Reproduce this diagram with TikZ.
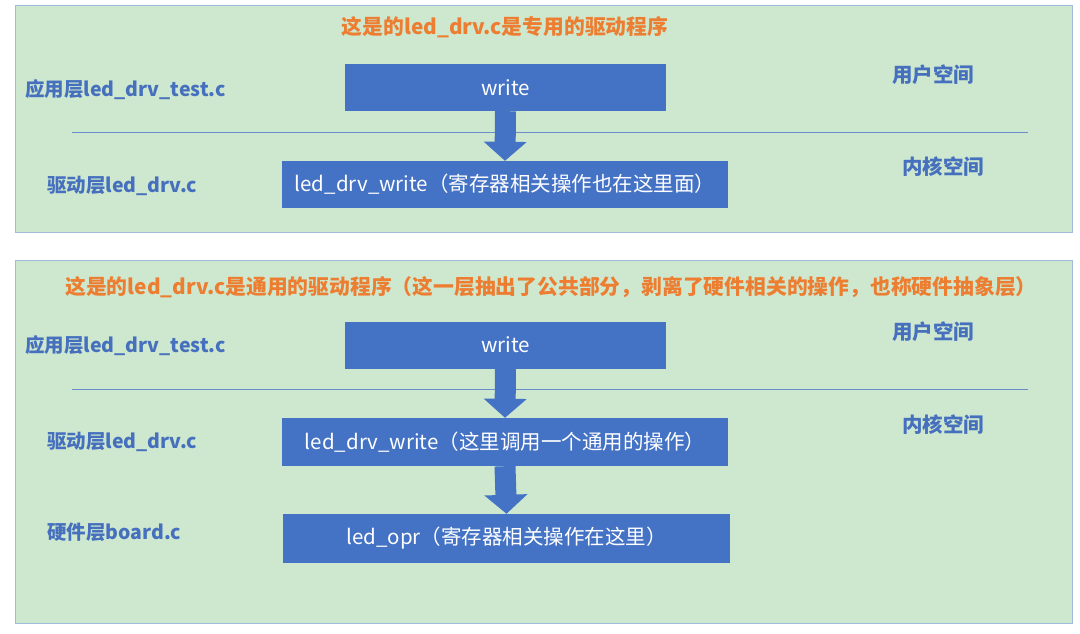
\documentclass[tikz,border=0pt]{standalone}
\usepackage{fontspec}
\setmainfont{Noto Sans CJK SC}
\usepackage{xcolor}
\usetikzlibrary{arrows.meta,positioning}

\definecolor{panelgreen}{RGB}{205,232,206}
\definecolor{panelline}{RGB}{160,188,220}
\definecolor{boxblue}{RGB}{68,114,196}
\definecolor{labelblue}{RGB}{70,112,190}
\definecolor{titleorange}{RGB}{237,125,49}

\begin{document}
\begin{tikzpicture}[
			x = 1pt, y = -1pt,
			panel/.style = {draw=panelline, fill=panelgreen, line width=1pt},
			funcbox/.style = {fill=boxblue, text=white, font=\fontsize{20.5}{22}\selectfont,
				minimum height=47pt, inner sep=0pt},
			layer/.style = {text=labelblue, font=\fontsize{19.5}{21}\selectfont\bfseries, inner sep=0pt},
			space/.style = {layer, font=\fontsize{20.5}{22}\selectfont\bfseries},
			title/.style = {text=titleorange, font=\fontsize{20.8}{22}\selectfont\bfseries, inner sep=0pt},
			sepline/.style = {draw=labelblue!80, line width=0.8pt},
			callarrow/.style = {draw=boxblue, line width=21pt, -{Triangle[length=19pt,width=42pt]}}
		]
		\useasboundingbox (0,0) rectangle (1080,633);

		% top panel: dedicated driver
		\draw[panel] (15,5) rectangle (1072,232);
		\node[title] (tit1) at (505,27) {这是的led\_drv.c是专用的驱动程序};
		\node[layer, anchor=west] (app1) at (25,90) {应用层led\_drv\_test.c};
		\node[layer, anchor=west] (drvl1) at (47,186) {驱动层led\_drv.c};
		\node[space] (usr1) at (933,75) {用户空间};
		\node[space] (ker1) at (943,167) {内核空间};
		\draw[sepline] (72,132) -- (1028,132);
		\node[funcbox, minimum width=321pt] (wr1) at (505.5,87.5) {write};
		\node[funcbox, minimum width=446pt] (drv1) at (505,184.5) {led\_drv\_write（寄存器相关操作也在这里面）};
		\draw[callarrow] (wr1.south) -- (drv1.north);

		% bottom panel: generic driver + board layer
		\draw[panel] (15,260) rectangle (1072,623);
		\node[title] (tit2) at (551,287) {这是的led\_drv.c是通用的驱动程序（这一层抽出了公共部分，剥离了硬件相关的操作，也称硬件抽象层）};
		\node[layer, anchor=west] (app2) at (25,346) {应用层led\_drv\_test.c};
		\node[layer, anchor=west] (drvl2) at (47,442) {驱动层led\_drv.c};
		\node[layer, anchor=west] (hwl2) at (47,532) {硬件层board.c};
		\node[space] (usr2) at (933,332) {用户空间};
		\node[space] (ker2) at (943,425) {内核空间};
		\draw[sepline] (72,389) -- (1028,389);
		\node[funcbox, minimum width=321pt] (wr2) at (505.5,345) {write};
		\node[funcbox, minimum width=446pt, minimum height=48pt] (drv2) at (505,442) {led\_drv\_write（这里调用一个通用的操作）};
		\node[funcbox, minimum width=447pt, minimum height=49pt] (opr2) at (506.5,538.5) {led\_opr（寄存器相关操作在这里）};
		\draw[callarrow] (wr2.south) -- (drv2.north);
		\draw[callarrow] (drv2.south) -- (opr2.north);

\end{tikzpicture}
\end{document}
